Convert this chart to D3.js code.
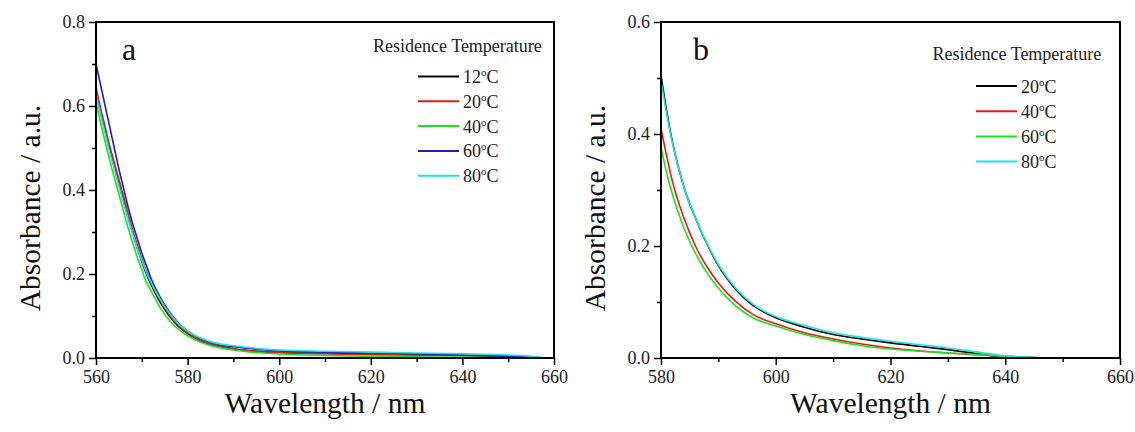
<!DOCTYPE html>
<html><head><meta charset="utf-8">
<script src="https://cdn.jsdelivr.net/npm/d3@7"></script>
<style>
html,body{margin:0;padding:0;background:#fff;}
</style></head>
<body>
<svg id="chart" width="1135" height="432"></svg>
<script>
// ---------- Panel a data ----------
const wavelengthA = [560,561,562,563,564,565,566,567,568,569,570,571,572,574,576,578,580,583,586,590,595,600,610,620,630,640,650,655,658];
const a12 = [0.630,0.585,0.540,0.495,0.455,0.415,0.375,0.335,0.298,0.262,0.230,0.200,0.175,0.133,0.100,0.075,0.058,0.040,0.030,0.022,0.016,0.013,0.011,0.010,0.008,0.006,0.003,0.001,0.000];
const a20 = [0.645,0.595,0.550,0.505,0.465,0.425,0.385,0.345,0.305,0.270,0.237,0.207,0.180,0.137,0.103,0.077,0.059,0.041,0.030,0.022,0.016,0.013,0.010,0.008,0.007,0.006,0.005,0.002,0.000];
const a40 = [0.610,0.560,0.515,0.470,0.430,0.390,0.350,0.310,0.275,0.240,0.210,0.180,0.160,0.120,0.090,0.068,0.053,0.037,0.027,0.019,0.013,0.0095,0.006,0.004,0.003,0.002,0.001,0.000,0.000];
const a60 = [0.700,0.650,0.600,0.550,0.500,0.450,0.405,0.360,0.320,0.285,0.250,0.220,0.190,0.145,0.110,0.083,0.064,0.045,0.034,0.027,0.021,0.017,0.014,0.012,0.010,0.007,0.004,0.002,0.000];
const a80 = [0.630,0.580,0.535,0.490,0.450,0.410,0.370,0.332,0.296,0.262,0.232,0.204,0.180,0.140,0.107,0.082,0.064,0.047,0.036,0.029,0.023,0.019,0.016,0.014,0.012,0.010,0.007,0.004,0.000];
const labelsA = ["12", "20", "40", "60", "80"];

// ---------- Panel b data ----------
const wavelengthB = [580,581,582,584,586,588,590,593,596,600,605,610,615,620,625,630,635,640,645,650];
const b20 = [0.505,0.440,0.385,0.305,0.250,0.204,0.165,0.123,0.094,0.072,0.055,0.042,0.034,0.027,0.021,0.015,0.008,0.000,null,null];
const b40 = [0.410,0.360,0.315,0.250,0.200,0.163,0.134,0.101,0.078,0.061,0.045,0.034,0.025,0.018,0.013,0.009,0.006,0.003,0.001,0.000];
const b60 = [0.376,0.330,0.292,0.232,0.187,0.152,0.125,0.093,0.072,0.057,0.042,0.031,0.022,0.016,0.012,0.009,0.006,0.003,0.001,0.000];
const b80 = [0.495,0.435,0.383,0.305,0.250,0.205,0.167,0.125,0.096,0.074,0.058,0.045,0.037,0.030,0.024,0.018,0.011,0.004,0.001,0.000];
const labelsB = ["20", "40", "60", "80"];

const xTicksA = [560,580,600,620,640,660];
const xMinorA = [570,590,610,630,650];
const yTicksA = [0.0,0.2,0.4,0.6,0.8];
const yMinorA = [0.1,0.3,0.5,0.7];
const xTicksB = [580,600,620,640,660];
const xMinorB = [590,610,630,650];
const yTicksB = [0.0,0.2,0.4,0.6];
const yMinorB = [0.1,0.3,0.5];

const colorsA = ["#000000","#e61919","#19e619","#1f1fbf","#19e6e6"];
const colorsB = ["#000000","#e61919","#19e619","#19e6e6"];

const FONT = "Liberation Serif";
const svg = d3.select("#chart");
const fmt = d3.format(".1f");

function panel(opt){
  const g = svg.append("g");
  const x = d3.scaleLinear().domain(opt.xDomain).range([opt.left, opt.right]);
  const y = d3.scaleLinear().domain(opt.yDomain).range([opt.bottom, opt.top]);

  // series
  const line = d3.line().defined(d => d[1] !== null).x(d => x(d[0])).y(d => y(d[1])).curve(d3.curveMonotoneX);
  opt.series.forEach((s, i) => {
    g.append("path")
      .datum(opt.wl.map((w, k) => [w, s[k]]))
      .attr("fill", "none").attr("stroke", opt.colors[i])
      .attr("stroke-width", 1.6).attr("stroke-linejoin", "round")
      .attr("d", line);
  });

  // minor ticks
  const xMinor = g.append("g").attr("transform", `translate(0,${opt.bottom})`)
    .call(d3.axisBottom(x).tickValues(opt.xMinor).tickSize(4).tickFormat(""));
  const yMinor = g.append("g").attr("transform", `translate(${opt.left},0)`)
    .call(d3.axisLeft(y).tickValues(opt.yMinor).tickSize(4).tickFormat(""));
  [xMinor, yMinor].forEach(a => { a.select(".domain").remove(); a.selectAll("line").attr("stroke-width", 1.5); });

  // major axes
  const xAx = g.append("g").attr("transform", `translate(0,${opt.bottom})`)
    .call(d3.axisBottom(x).tickValues(opt.xTicks).tickSize(7).tickPadding(5).tickFormat(d3.format("d")));
  const yAx = g.append("g").attr("transform", `translate(${opt.left},0)`)
    .call(d3.axisLeft(y).tickValues(opt.yTicks).tickSize(7).tickPadding(4).tickFormat(fmt));
  [xAx, yAx].forEach(a => {
    a.attr("font-family", FONT).attr("font-size", 18);
    a.select(".domain").remove();
    a.selectAll("line").attr("stroke-width", 1.5);
    a.selectAll("text").style("font-family", FONT).style("font-size", "18px").attr("fill", "#222");
  });

  // frame
  g.append("rect").attr("x", opt.left).attr("y", opt.top)
    .attr("width", opt.right - opt.left).attr("height", opt.bottom - opt.top)
    .attr("fill", "none").attr("stroke", "#000").attr("stroke-width", 2);

  // axis titles
  g.append("text").attr("x", (opt.left + opt.right) / 2).attr("y", 413)
    .attr("text-anchor", "middle").style("font-size", "29.5px").attr("fill", "#111")
    .style("font-family", FONT).text("Wavelength / nm");
  g.append("text").attr("transform", `translate(${opt.left - 56},${(opt.top + opt.bottom) / 2 + 18}) rotate(-90)`)
    .attr("text-anchor", "middle").style("font-size", "29.5px").attr("fill", "#111")
    .style("font-family", FONT).text("Absorbance / a.u.");

  // panel letter
  g.append("text").attr("x", opt.letterX).attr("y", 60).style("font-size", "32px").attr("fill", "#111")
    .style("font-family", FONT).text(opt.letter);

  // legend
  g.append("text").attr("x", opt.legTitleX).attr("y", opt.legTitleY)
    .style("font-size", "18px").attr("fill", "#222").style("font-family", FONT).text("Residence Temperature");
  opt.labels.forEach((lab, i) => {
    const ly = opt.legY0 + i * opt.legDy;
    g.append("line").attr("x1", opt.legX).attr("x2", opt.legX + 41)
      .attr("y1", ly).attr("y2", ly).attr("stroke", opt.colors[i]).attr("stroke-width", 2);
    const t = g.append("text").attr("x", opt.legX + 45).attr("y", ly + 6.5)
      .style("font-size", "18px").attr("fill", "#222").style("font-family", FONT);
    t.append("tspan").text(lab);
    t.append("tspan").style("font-size", "11px").attr("dy", -7).text("o");
    t.append("tspan").attr("dy", 7).text("C");
  });
}

panel({
  xDomain:[560,660], yDomain:[0,0.8], left:96, right:554, top:22, bottom:358,
  wl: wavelengthA, series:[a12,a20,a40,a60,a80], colors: colorsA, labels: labelsA,
  xTicks: xTicksA, xMinor: xMinorA, yTicks: yTicksA, yMinor: yMinorA,
  letter:"a", letterX:122,
  legTitleX:373, legTitleY:52, legX:418, legY0:76.5, legDy:24.8
});
panel({
  xDomain:[580,660], yDomain:[0,0.6], left:661, right:1120, top:22, bottom:358,
  wl: wavelengthB, series:[b20,b40,b60,b80], colors: colorsB, labels: labelsB,
  xTicks: xTicksB, xMinor: xMinorB, yTicks: yTicksB, yMinor: yMinorB,
  letter:"b", letterX:693,
  legTitleX:932.5, legTitleY:60, legX:976, legY0:86, legDy:25.2
});
</script>
</body></html>
